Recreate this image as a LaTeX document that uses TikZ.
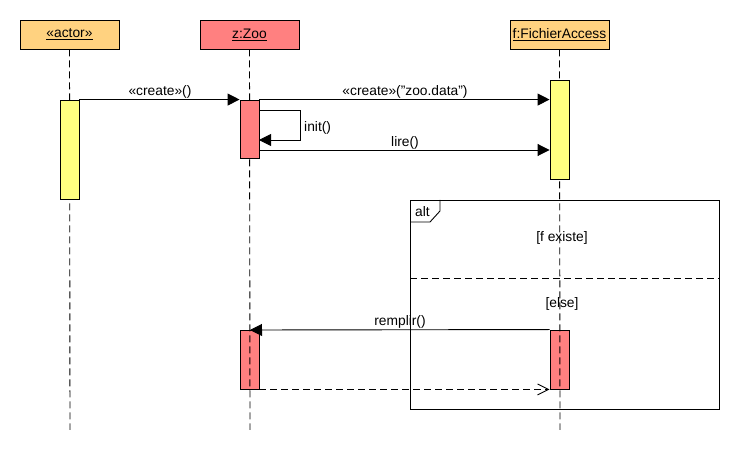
\documentclass[tikz,border=0pt]{standalone}
\usepackage{fontspec}
\setmainfont{Liberation Sans}
\usetikzlibrary{arrows.meta}
\definecolor{hdrorange}{HTML}{FFD280}
\definecolor{hdrred}{HTML}{FF8080}
\definecolor{actyellow}{HTML}{FFFF80}
\begin{document}
\begin{tikzpicture}[x=1pt,y=-1pt,
  font=\fontsize{13.8}{15}\selectfont,
  header/.style={draw=black,line width=0.9pt,minimum width=99pt,minimum height=29pt,inner sep=0pt},
  actbox/.style={draw=black,line width=0.9pt,minimum width=19pt,inner sep=0pt},
  lifeline/.style={line width=0.9pt,dash pattern=on 7pt off 4pt},
  msg/.style={line width=0.9pt,-{Triangle[length=12pt,width=12pt]}},
  ret/.style={line width=0.9pt,dash pattern=on 7pt off 4pt,-{Straight Barb[length=11pt,width=11pt]}},
  lbl/.style={inner sep=0pt},
  frm/.style={line width=0.9pt}]
\useasboundingbox (0,0) rectangle (740,470);
% headers
\node[header,fill=hdrorange] (hA) at (69.5,34.5) {\underline{«actor»}};
\node[header,fill=hdrred] (hZ) at (249.5,34.5) {\underline{z:Zoo}};
\node[header,fill=hdrorange] (hF) at (559.5,34.5) {\underline{f:FichierAccess}};
% lower activations (lifelines drawn over them)
\node[actbox,fill=hdrred,minimum height=59pt] (zB) at (249.5,359.5) {};
\node[actbox,fill=hdrred,minimum height=59pt] (fB) at (559.5,359.5) {};
% lifelines
\coordinate (eA) at (70,430);
\coordinate (eZ) at (250,430);
\coordinate (eF) at (560,430);
\draw[lifeline] (hA.south) -- (eA);
\draw[lifeline] (hZ.south) -- (eZ);
\draw[lifeline] (hF.south) -- (eF);
% upper activations
\node[actbox,fill=actyellow,minimum height=99pt] (aA) at (69.5,149.5) {};
\node[actbox,fill=hdrred,minimum height=58pt] (zA) at (249.5,129) {};
\node[actbox,fill=actyellow,minimum height=99pt] (fA) at (559.5,129.5) {};
% messages
\draw[msg] (aA.north east) -- (zA.north west);
\node[lbl] (l1) at (160,92) {«create»()};
\draw[msg] (zA.north east) -- (fA.west |- zA.north east);
\node[lbl] (l2) at (405,92) {«create»(\char34 zoo.data\char34)};
\coordinate (i1) at (259,110);
\coordinate (i2) at (300,110);
\coordinate (i3) at (300,140);
\coordinate (i4) at (259,140);
\draw[msg] (i1) -- (i2) -- (i3) -- (i4);
\node[lbl,anchor=west] (l3) at (304,128) {init()};
\coordinate (r1) at (259,150);
\draw[msg] (r1) -- (fA.west |- r1);
\node[lbl] (l4) at (405,143) {lire()};
% remplir
\coordinate (t1) at (250,330);
\draw[msg] (fB.north west) -- (t1);
\node[lbl] (l5) at (400,322) {remplir()};
\draw[ret] (zB.south east) -- (fB.south west);
% alt frame
\coordinate (fr1) at (410,200);
\coordinate (fr2) at (719,409);
\draw[frm] (fr1) rectangle (fr2);
\coordinate (tb1) at (410,222);
\coordinate (tb2) at (430,222);
\coordinate (tb3) at (440,211);
\coordinate (tb4) at (440,200);
\draw[frm] (tb1) -- (tb2) -- (tb3) -- (tb4);
\node[lbl] (alt) at (422.5,212) {alt};
\coordinate (s1) at (410,278);
\coordinate (s2) at (719,278);
\draw[lifeline] (s1) -- (s2);
\node[lbl] (g1) at (562,238) {[f existe]};
\node[lbl] (g2) at (562,304) {[else]};
\end{tikzpicture}
\end{document}
